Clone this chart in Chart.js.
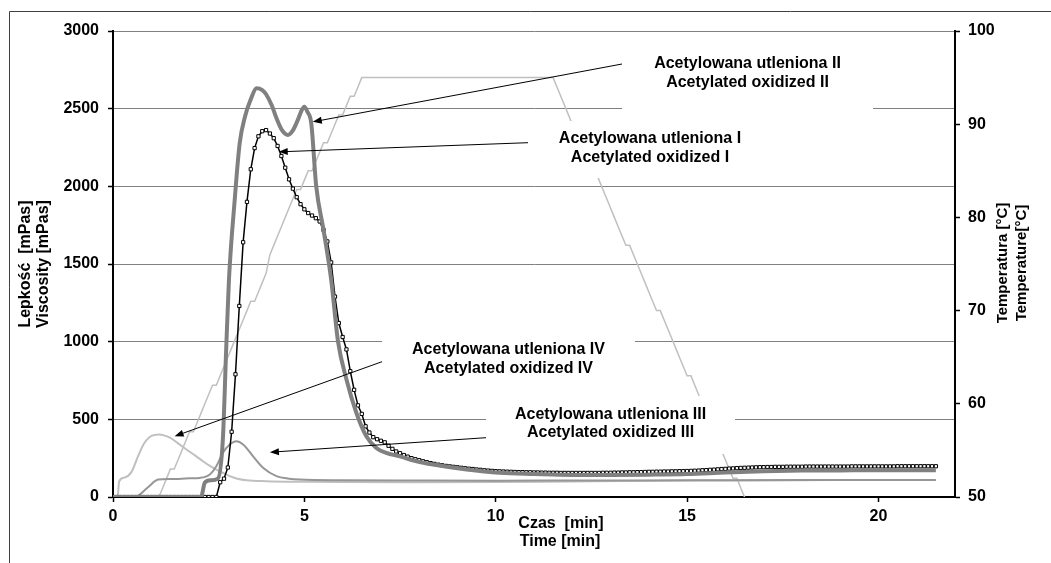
<!DOCTYPE html>
<html lang="pl">
<head>
    <meta charset="UTF-8">
    <title>Lepkość / Viscosity</title>
    <script src="https://cdn.jsdelivr.net/npm/chart.js"></script>
    <style>
        html, body { margin: 0; padding: 0; background: #fff; }
        #wrap { width: 1051px; height: 563px; position: relative; }
    </style>
</head>
<body>
    <div id="wrap"><canvas id="viscChart"></canvas></div>

    <script>
        // logger time steps, every 0.1 min from 0 to 21.5 min
        const time = Array.from({ length: 216 }, (_, i) => i / 10);

        // Acetylowana utleniona I [mPas], one value per time step
        const viscI = [
            0, 0, 0, 0, 0, 0, 0, 0, 0, 0,
            0, 0, 0, 0, 0, 0, 0, 0, 0, 0,
            0, 0, 0, 0, 0, 0, 0, 0, 95, 118,
            190, 420, 790, 1230, 1640, 1900, 2110, 2246, 2322, 2355,
            2362, 2340, 2310, 2260, 2195, 2120, 2045, 1985, 1930, 1885,
            1852, 1828, 1812, 1795, 1774, 1720, 1645, 1510, 1290, 1120,
            1030, 950, 810, 690, 590, 535, 455, 415, 385, 372,
            362, 352, 330, 310, 293, 282, 270, 260, 250, 243,
            237, 230, 224, 218, 213, 208, 204, 200, 197, 194,
            191, 188, 185, 182, 180, 177, 175, 172, 170, 168,
            166, 165, 164, 163, 162, 161, 160, 160, 159, 159,
            158, 158, 157, 157, 156, 156, 156, 155, 155, 155,
            155, 155, 155, 155, 155, 155, 155, 155, 156, 156,
            156, 157, 157, 158, 158, 159, 159, 160, 160, 161,
            162, 162, 163, 163, 164, 164, 165, 165, 166, 166,
            167, 168, 169, 170, 172, 173, 175, 176, 178, 180,
            181, 183, 184, 186, 187, 188, 189, 190, 191, 192,
            192, 193, 193, 194, 194, 194, 195, 195, 195, 195,
            195, 196, 196, 196, 196, 196, 196, 196, 196, 196,
            196, 196, 196, 197, 197, 197, 197, 197, 197, 197,
            197, 197, 197, 197, 197, 198, 198, 198, 198, 198,
            198, 198, 198, 198, 198, 198
        ];

        // temperature profile [°C], same time steps
        const temperature = [
            50, 50, 50, 50, 50, 50, 50, 50, 50, 50,
            50, 50, 50, 51, 52, 53, 53, 54, 55, 56,
            57, 57, 58, 59, 60, 61, 62, 62, 63, 64,
            65, 66, 67, 68, 69, 70, 71, 71, 72, 73,
            74, 76, 77, 78, 79, 80, 81, 82, 83, 83,
            84, 85, 85, 86, 87, 88, 88, 89, 90, 91,
            91, 92, 93, 93, 94, 95, 95, 95, 95, 95,
            95, 95, 95, 95, 95, 95, 95, 95, 95, 95,
            95, 95, 95, 95, 95, 95, 95, 95, 95, 95,
            95, 95, 95, 95, 95, 95, 95, 95, 95, 95,
            95, 95, 95, 95, 95, 95, 95, 95, 95, 95,
            95, 95, 95, 95, 95, 95, 94, 93, 92, 91,
            90, 89, 88, 87, 86, 86, 85, 84, 83, 82,
            81, 80, 79, 78, 77, 77, 76, 75, 74, 73,
            72, 71, 70, 70, 69, 68, 67, 66, 65, 64,
            63, 63, 62, 61, 60, 59, 58, 57, 56, 55,
            54, 53, 52, 52, 51, 50, 49, 49, 49, 49,
            49, 49, 49, 49, 49, 49, 49, 49, 49, 49,
            49, 49, 49, 49, 49, 49, 49, 49, 49, 49,
            49, 49, 49, 49, 49, 49, 49, 49, 49, 49,
            49, 49, 49, 49, 49, 49, 49, 49, 49, 49,
            49, 49, 49, 49, 49, 49
        ];

        // Acetylowana utleniona II [min], [mPas]
        const timeII = [0, 2.3, 2.4, 2.55, 2.74, 2.87, 2.96, 3.03, 3.18, 3.31,
            3.45, 3.6, 3.75, 3.9, 4.0, 4.15, 4.27, 4.42, 4.57, 4.7,
            4.83, 4.93, 5.0, 5.08, 5.18, 5.31, 5.5, 5.7, 5.88, 6.1,
            6.36, 6.62, 6.88, 7.14, 7.49, 7.93, 8.36, 9.24, 10.1, 11,
            12, 13, 14, 15, 16, 17, 18, 19, 20, 21, 21.5];
        const viscII = [0, 0, 93, 108, 119, 370, 970, 1400, 1913, 2278,
            2450, 2560, 2631, 2620, 2593, 2520, 2440, 2360, 2331, 2360,
            2428, 2490, 2513, 2480, 2406, 2000, 1720, 1400, 1000, 756,
            541, 391, 316, 284, 262, 230, 209, 177, 156, 148,
            142, 142, 144, 148, 158, 166, 170, 171, 172, 172, 172];

        // Acetylowana utleniona III
        const timeIII = [0, 0.57, 0.9, 1.18, 1.5, 2.0, 2.27, 2.53, 2.7, 2.87,
            3.05, 3.22, 3.4, 3.66, 3.92, 4.27, 4.6, 4.88, 6, 8,
            10, 12, 14, 16, 18, 20, 21.5];
        const viscIII = [0, 0, 60, 112, 116, 120, 123, 145, 198, 284,
            338, 359, 338, 262, 188, 134, 118, 112, 108, 106,
            105, 106, 107, 108, 109, 110, 110];

        // Acetylowana utleniona IV
        const timeIV = [0, 0.12, 0.16, 0.3, 0.48, 0.65, 0.8, 0.95, 1.1, 1.2,
            1.35, 1.5, 1.7, 1.92, 2.15, 2.35, 2.5, 2.7, 2.9, 3.05,
            3.25, 3.49, 4.0, 5, 6, 8, 10, 12, 14, 16,
            18, 20, 21.5];
        const viscIV = [0, 0, 100, 125, 160, 260, 340, 385, 400, 402,
            395, 380, 345, 306, 266, 230, 205, 177, 152, 134,
            118, 108, 102, 98, 96, 95, 96, 100, 104, 106,
            108, 110, 110];

        // callouts: text and the point each arrow points at (time, viscosity)
        const noteText = [
            ["Acetylowana utleniona II", "Acetylated oxidized II"],
            ["Acetylowana utleniona I", "Acetylated oxidized I"],
            ["Acetylowana utleniona IV", "Acetylated oxidized IV"],
            ["Acetylowana utleniona III", "Acetylated oxidized III"]
        ];
        const arrowTime = [5.22, 4.33, 1.61, 4.10];
        const arrowVisc = [2415, 2222, 391, 288];

        const xTicks = [0, 5, 10, 15, 20];

        // text box layout [left, top, right, bottom], first baseline, arrow start
        const noteBox = [
            { box: [622, 38, 873, 112], base: 68, from: [622, 64] },
            { box: [528, 121, 772, 178], base: 143, from: [528, 142.7] },
            { box: [382, 329, 635, 388], base: 354, from: [382, 361.7] },
            { box: [486, 396, 735, 454], base: 418.5, from: [486, 437.7] }
        ];

        const FONT = 'Arial, "Liberation Sans", sans-serif';
        const tickFont = { family: FONT, size: 16, weight: 'bold' };

        function pts(xs, ys) {
            return xs.map((x, i) => ({ x: x, y: ys[i] }));
        }

        function drawArrow(ctx, x0, y0, x1, y1) {
            let a = Math.atan2(y1 - y0, x1 - x0);
            let len = 9, w = 3.5;
            ctx.beginPath();
            ctx.moveTo(x0, y0);
            ctx.lineTo(x1 - Math.cos(a) * len * 0.7, y1 - Math.sin(a) * len * 0.7);
            ctx.stroke();
            ctx.beginPath();
            ctx.moveTo(x1, y1);
            ctx.lineTo(x1 - len * Math.cos(a) + w * Math.sin(a), y1 - len * Math.sin(a) - w * Math.cos(a));
            ctx.lineTo(x1 - len * Math.cos(a) - w * Math.sin(a), y1 - len * Math.sin(a) + w * Math.cos(a));
            ctx.closePath();
            ctx.fill();
        }

        function rotatedText(ctx, text, x, y) {
            ctx.save();
            ctx.translate(x, y);
            ctx.rotate(-Math.PI / 2);
            ctx.fillText(text, 0, 0);
            ctx.restore();
        }

        const overlay = {
            id: 'overlay',
            beforeDraw(chart) {
                let ctx = chart.ctx;
                ctx.save();
                ctx.fillStyle = '#fff';
                ctx.fillRect(0, 0, chart.width, chart.height);
                // frame of the chart object (cut at right and bottom)
                ctx.strokeStyle = '#404040';
                ctx.lineWidth = 1;
                ctx.beginPath();
                ctx.moveTo(9.5, chart.height);
                ctx.lineTo(9.5, 11.5);
                ctx.lineTo(chart.width, 11.5);
                ctx.stroke();
                ctx.restore();
            },
            afterDatasetsDraw(chart) {
                let ctx = chart.ctx;
                let xs = chart.scales.x, ys = chart.scales.y;
                ctx.save();
                ctx.font = 'bold 16px ' + FONT;
                ctx.textAlign = 'center';
                ctx.textBaseline = 'alphabetic';
                noteBox.forEach((n, i) => {
                    let b = n.box;
                    ctx.fillStyle = '#fff';
                    ctx.fillRect(b[0], b[1], b[2] - b[0], b[3] - b[1]);
                    ctx.fillStyle = '#000';
                    let cx = (b[0] + b[2]) / 2;
                    ctx.fillText(noteText[i][0], cx, n.base);
                    ctx.fillText(noteText[i][1], cx, n.base + 18.5);
                });
                ctx.strokeStyle = '#000';
                ctx.fillStyle = '#000';
                ctx.lineWidth = 1;
                noteBox.forEach((n, i) => {
                    drawArrow(ctx, n.from[0], n.from[1],
                        xs.getPixelForValue(arrowTime[i]), ys.getPixelForValue(arrowVisc[i]));
                });

                // axis titles
                ctx.textBaseline = 'middle';
                rotatedText(ctx, 'Lepkość  [mPas]', 26, 264);
                rotatedText(ctx, 'Viscosity [mPas]', 44, 264);
                ctx.font = 'bold 15px ' + FONT;
                rotatedText(ctx, 'Temperatura [°C]', 1003, 263);
                rotatedText(ctx, 'Temperature[°C]', 1022, 263);
                ctx.font = 'bold 16px ' + FONT;
                ctx.textBaseline = 'alphabetic';
                ctx.fillText('Czas  [min]', 561, 528);
                ctx.fillText('Time [min]', 560, 545.5);
                ctx.restore();
            }
        };

        new Chart(document.getElementById('viscChart'), {
            type: 'line',
            data: {
                datasets: [
                    {
                        label: 'Acetylowana utleniona II',
                        data: pts(timeII, viscII),
                        borderColor: '#808080',
                        borderWidth: 4,
                        pointRadius: 0,
                        cubicInterpolationMode: 'monotone',
                        yAxisID: 'y',
                        order: 0
                    },
                    {
                        label: 'Acetylowana utleniona I',
                        data: pts(time, viscI),
                        borderColor: '#000',
                        borderWidth: 1.5,
                        pointStyle: 'rect',
                        pointRadius: 2.3,
                        pointBackgroundColor: '#fff',
                        pointBorderColor: '#000',
                        pointBorderWidth: 1,
                        yAxisID: 'y',
                        order: 1
                    },
                    {
                        label: 'Acetylowana utleniona III',
                        data: pts(timeIII, viscIII),
                        borderColor: '#969696',
                        borderWidth: 2,
                        pointRadius: 0,
                        cubicInterpolationMode: 'monotone',
                        yAxisID: 'y',
                        order: 2
                    },
                    {
                        label: 'Acetylowana utleniona IV',
                        data: pts(timeIV, viscIV),
                        borderColor: '#c0c0c0',
                        borderWidth: 2,
                        pointRadius: 0,
                        cubicInterpolationMode: 'monotone',
                        yAxisID: 'y',
                        order: 3
                    },
                    {
                        label: 'Temperatura',
                        data: pts(time, temperature),
                        borderColor: '#c0c0c0',
                        borderWidth: 1.5,
                        pointRadius: 0,
                        yAxisID: 'y2',
                        order: 4
                    }
                ]
            },
            options: {
                responsive: true,
                maintainAspectRatio: false,
                animation: false,
                events: [],
                layout: { padding: { top: 31, left: 0, right: 0, bottom: 0 } },
                plugins: {
                    legend: { display: false },
                    tooltip: { enabled: false }
                },
                scales: {
                    x: {
                        type: 'linear',
                        min: 0,
                        max: 22,
                        afterFit: s => { s.height = 66; },
                        afterBuildTicks: s => { s.ticks = xTicks.map(v => ({ value: v })); },
                        ticks: { color: '#000', font: tickFont, padding: 5, maxRotation: 0, callback: v => String(v) },
                        grid: { drawOnChartArea: false, tickLength: 5, tickColor: '#000', tickWidth: 1.5 },
                        border: { color: '#000', width: 2 }
                    },
                    y: {
                        position: 'left',
                        min: 0,
                        max: 3000,
                        afterFit: s => { s.width = 113; },
                        ticks: { stepSize: 500, color: '#000', font: tickFont, padding: 9, callback: v => String(v) },
                        grid: {
                            color: c => c.tick && c.tick.value === 0 ? 'rgba(0,0,0,0)' : '#808080',
                            lineWidth: 1,
                            tickLength: 5,
                            tickColor: '#000',
                            tickWidth: 1.5
                        },
                        border: { color: '#000', width: 2 }
                    },
                    y2: {
                        position: 'right',
                        min: 50,
                        max: 100,
                        afterFit: s => { s.width = 96; },
                        ticks: { stepSize: 10, color: '#000', font: tickFont, padding: 8, callback: v => String(v) },
                        grid: { drawOnChartArea: false, tickLength: 5, tickColor: '#000', tickWidth: 1.5 },
                        border: { color: '#000', width: 2 }
                    }
                }
            },
            plugins: [overlay]
        });
    </script>
</body>
</html>
